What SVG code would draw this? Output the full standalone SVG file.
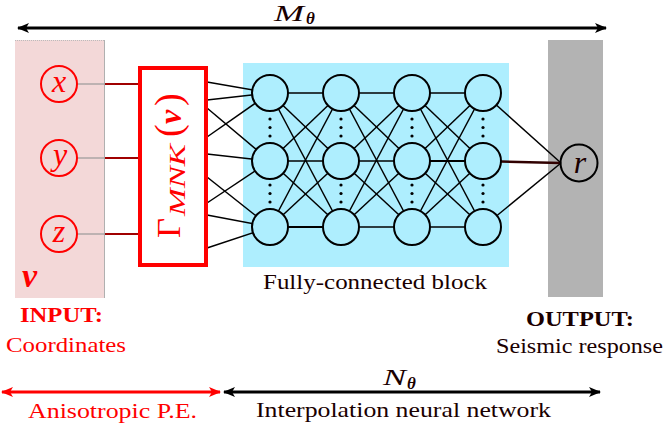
<svg xmlns="http://www.w3.org/2000/svg" width="664" height="423" viewBox="0 0 664 423">
<style>
  .edge { stroke: #000; stroke-width: 1.5; fill: none; }
  .node { fill: #aeeefe; stroke: #000; stroke-width: 2; }
  .inp { fill: none; stroke: #ff0000; stroke-width: 2; }
  .dot { fill: #000; }
</style>
<defs>
  <marker id="ahK" viewBox="0 0 12 10" refX="11" refY="5" markerWidth="12" markerHeight="10" markerUnits="userSpaceOnUse" orient="auto-start-reverse">
    <path d="M0,0 L12,5 L0,10 L3,5 z" fill="#000"/>
  </marker>
  <marker id="ahR" viewBox="0 0 12 10" refX="11" refY="5" markerWidth="12" markerHeight="10" markerUnits="userSpaceOnUse" orient="auto-start-reverse">
    <path d="M0,0 L12,5 L0,10 L3,5 z" fill="#ff0000"/>
  </marker>
</defs>

<g id="input-panel">
  <rect x="15" y="40" width="89" height="258" fill="#f3d8d8"/>
  <line x1="15" y1="40.5" x2="104" y2="40.5" stroke="#bbbbbb" stroke-width="1" stroke-dasharray="1,1"/>
  <line x1="104.5" y1="40" x2="104.5" y2="298" stroke="#b0b0b0" stroke-width="1"/>
  <text x="22" y="287" font-family="Liberation Serif, serif" font-style="italic" font-weight="bold" fill="#ff0000" font-size="34">v</text>
</g>
<g id="fc-block-bg">
  <rect x="243" y="63" width="266" height="204" fill="#aeeefe"/>
</g>
<g id="output-panel">
  <rect x="548" y="40" width="55" height="257" fill="#b3b3b3"/>
</g>

<g id="connectors">
  <g stroke="#999999" stroke-width="1.2">
    <line x1="77" y1="84" x2="105" y2="84"/>
    <line x1="77" y1="158" x2="105" y2="158"/>
    <line x1="77" y1="234" x2="105" y2="234"/>
  </g>
  <g stroke="#a00000" stroke-width="2">
    <line x1="105" y1="84" x2="140" y2="84"/>
    <line x1="105" y1="158" x2="140" y2="158"/>
    <line x1="105" y1="234" x2="140" y2="234"/>
  </g>
  <g class="edge">
    <line x1="207" y1="82" x2="270" y2="93"/>
    <line x1="207" y1="100" x2="270" y2="93"/>
    <line x1="207" y1="137" x2="270" y2="93"/>
    <line x1="207" y1="108" x2="270" y2="161"/>
    <line x1="207" y1="154" x2="270" y2="161"/>
    <line x1="207" y1="203" x2="270" y2="161"/>
    <line x1="207" y1="177" x2="270" y2="227"/>
    <line x1="207" y1="215" x2="270" y2="227"/>
    <line x1="207" y1="248" x2="270" y2="227"/>
  </g>
  <g class="edge">
    <line x1="270" y1="93" x2="341" y2="93"/>
    <line x1="270" y1="93" x2="341" y2="161"/>
    <line x1="270" y1="93" x2="341" y2="227"/>
    <line x1="270" y1="161" x2="341" y2="93"/>
    <line x1="270" y1="161" x2="341" y2="161"/>
    <line x1="270" y1="161" x2="341" y2="227"/>
    <line x1="270" y1="227" x2="341" y2="93"/>
    <line x1="270" y1="227" x2="341" y2="161"/>
    <line x1="270" y1="227" x2="341" y2="227" stroke-width="2"/>
  </g>
  <g class="edge">
    <line x1="341" y1="93" x2="412" y2="93"/>
    <line x1="341" y1="93" x2="412" y2="161"/>
    <line x1="341" y1="93" x2="412" y2="227"/>
    <line x1="341" y1="161" x2="412" y2="93"/>
    <line x1="341" y1="161" x2="412" y2="161"/>
    <line x1="341" y1="161" x2="412" y2="227"/>
    <line x1="341" y1="227" x2="412" y2="93"/>
    <line x1="341" y1="227" x2="412" y2="161"/>
    <line x1="341" y1="227" x2="412" y2="227"/>
  </g>
  <g class="edge">
    <line x1="412" y1="93" x2="483" y2="93"/>
    <line x1="412" y1="93" x2="483" y2="161"/>
    <line x1="412" y1="93" x2="483" y2="227"/>
    <line x1="412" y1="161" x2="483" y2="93"/>
    <line x1="412" y1="161" x2="483" y2="161" stroke-width="2"/>
    <line x1="412" y1="161" x2="483" y2="227"/>
    <line x1="412" y1="227" x2="483" y2="93"/>
    <line x1="412" y1="227" x2="483" y2="161"/>
    <line x1="412" y1="227" x2="483" y2="227"/>
  </g>
  <g class="edge">
    <line x1="483" y1="93" x2="561" y2="163"/>
    <line x1="483" y1="227" x2="561" y2="163"/>
  </g>
  <line x1="483" y1="161" x2="561" y2="163" stroke="#300000" stroke-width="2.5"/>

  <line x1="18" y1="28" x2="606" y2="28" stroke="#000" stroke-width="3" marker-start="url(#ahK)" marker-end="url(#ahK)"/>
  <line x1="2" y1="392" x2="220" y2="392" stroke="#ff0000" stroke-width="3" marker-start="url(#ahR)" marker-end="url(#ahR)"/>
  <line x1="224" y1="392" x2="600" y2="392" stroke="#000" stroke-width="3" marker-start="url(#ahK)" marker-end="url(#ahK)"/>
</g>

<g id="node-x">
  <circle cx="59" cy="84" r="18" class="inp"/>
  <text x="59" y="92" text-anchor="middle" font-family="Liberation Serif, serif" font-style="italic" fill="#ff0000" font-size="32">x</text>
</g>
<g id="node-y">
  <circle cx="59" cy="158" r="18" class="inp"/>
  <text x="60" y="165" text-anchor="middle" font-family="Liberation Serif, serif" font-style="italic" fill="#ff0000" font-size="32">y</text>
</g>
<g id="node-z">
  <circle cx="59" cy="234" r="18" class="inp"/>
  <text x="59" y="242" text-anchor="middle" font-family="Liberation Serif, serif" font-style="italic" fill="#ff0000" font-size="32">z</text>
</g>

<g id="pe-box">
  <rect x="140" y="68" width="66" height="197" fill="#ffffff" stroke="#ff0000" stroke-width="4"/>
  <text transform="translate(180,238) rotate(-90)" font-family="Liberation Serif, serif" fill="#ff0000"><tspan x="0" y="0" font-size="34" textLength="20" lengthAdjust="spacingAndGlyphs">Γ</tspan><tspan x="22" y="5" font-size="24" font-style="italic" textLength="72" lengthAdjust="spacingAndGlyphs">MNK</tspan><tspan x="101" y="1" font-size="38">(</tspan><tspan x="114" y="1" font-size="32" font-style="italic" font-weight="bold">v</tspan><tspan x="132" y="1" font-size="38">)</tspan></text>
</g>

<g id="layer-1">
  <circle cx="270" cy="93" r="18" class="node"/>
  <circle cx="270" cy="161" r="18" class="node"/>
  <circle cx="270" cy="227" r="18" class="node"/>
  <circle cx="270" cy="119" r="1.6" class="dot"/><circle cx="270" cy="127.5" r="1.6" class="dot"/><circle cx="270" cy="136" r="1.6" class="dot"/>
  <circle cx="270" cy="185" r="1.6" class="dot"/><circle cx="270" cy="193.5" r="1.6" class="dot"/><circle cx="270" cy="202" r="1.6" class="dot"/>
</g>
<g id="layer-2">
  <circle cx="341" cy="93" r="18" class="node"/>
  <circle cx="341" cy="161" r="18" class="node"/>
  <circle cx="341" cy="227" r="18" class="node"/>
  <circle cx="341" cy="119" r="1.6" class="dot"/><circle cx="341" cy="127.5" r="1.6" class="dot"/><circle cx="341" cy="136" r="1.6" class="dot"/>
  <circle cx="341" cy="185" r="1.6" class="dot"/><circle cx="341" cy="193.5" r="1.6" class="dot"/><circle cx="341" cy="202" r="1.6" class="dot"/>
</g>
<g id="layer-3">
  <circle cx="412" cy="93" r="18" class="node"/>
  <circle cx="412" cy="161" r="18" class="node"/>
  <circle cx="412" cy="227" r="18" class="node"/>
  <circle cx="412" cy="119" r="1.6" class="dot"/><circle cx="412" cy="127.5" r="1.6" class="dot"/><circle cx="412" cy="136" r="1.6" class="dot"/>
  <circle cx="412" cy="185" r="1.6" class="dot"/><circle cx="412" cy="193.5" r="1.6" class="dot"/><circle cx="412" cy="202" r="1.6" class="dot"/>
</g>
<g id="layer-4">
  <circle cx="483" cy="93" r="18" class="node"/>
  <circle cx="483" cy="161" r="18" class="node"/>
  <circle cx="483" cy="227" r="18" class="node"/>
  <circle cx="483" cy="119" r="1.6" class="dot"/><circle cx="483" cy="127.5" r="1.6" class="dot"/><circle cx="483" cy="136" r="1.6" class="dot"/>
  <circle cx="483" cy="185" r="1.6" class="dot"/><circle cx="483" cy="193.5" r="1.6" class="dot"/><circle cx="483" cy="202" r="1.6" class="dot"/>
</g>

<g id="node-r">
  <circle cx="579" cy="163" r="18.5" fill="none" stroke="#000" stroke-width="2"/>
  <text x="580" y="173" text-anchor="middle" font-family="Liberation Serif, serif" font-style="italic" fill="#1a0000" font-size="32">r</text>
</g>

<g id="labels">
  <text x="263" y="289" font-family="Liberation Serif, serif" fill="#1a0000" font-size="22" textLength="224" lengthAdjust="spacingAndGlyphs">Fully-connected block</text>
  <text x="20" y="322" font-family="Liberation Serif, serif" font-weight="bold" fill="#ff0000" font-size="22" textLength="83" lengthAdjust="spacingAndGlyphs">INPUT:</text>
  <text x="6" y="352" font-family="Liberation Serif, serif" fill="#ff0000" font-size="22" textLength="120" lengthAdjust="spacingAndGlyphs">Coordinates</text>
  <text x="526" y="326" font-family="Liberation Serif, serif" font-weight="bold" fill="#1a0000" font-size="22" textLength="108" lengthAdjust="spacingAndGlyphs">OUTPUT:</text>
  <text x="496" y="353" font-family="Liberation Serif, serif" fill="#1a0000" font-size="22" textLength="167" lengthAdjust="spacingAndGlyphs">Seismic response</text>
  <text x="28" y="418" font-family="Liberation Serif, serif" fill="#ff0000" font-size="22" textLength="169" lengthAdjust="spacingAndGlyphs">Anisotropic P.E.</text>
  <text x="256" y="417" font-family="Liberation Serif, serif" fill="#1a0000" font-size="22" textLength="295" lengthAdjust="spacingAndGlyphs">Interpolation neural network</text>
  <text font-family="Liberation Serif, serif" fill="#1a0000"><tspan x="274" y="21" font-size="24" font-style="italic" textLength="30" lengthAdjust="spacingAndGlyphs">M</tspan><tspan x="306" y="24" font-size="17" font-style="italic" font-weight="bold">θ</tspan></text>
  <text font-family="Liberation Serif, serif" fill="#1a0000"><tspan x="383" y="385" font-size="24" font-style="italic" textLength="23" lengthAdjust="spacingAndGlyphs">N</tspan><tspan x="407" y="389" font-size="17" font-style="italic" font-weight="bold">θ</tspan></text>
</g>
</svg>
